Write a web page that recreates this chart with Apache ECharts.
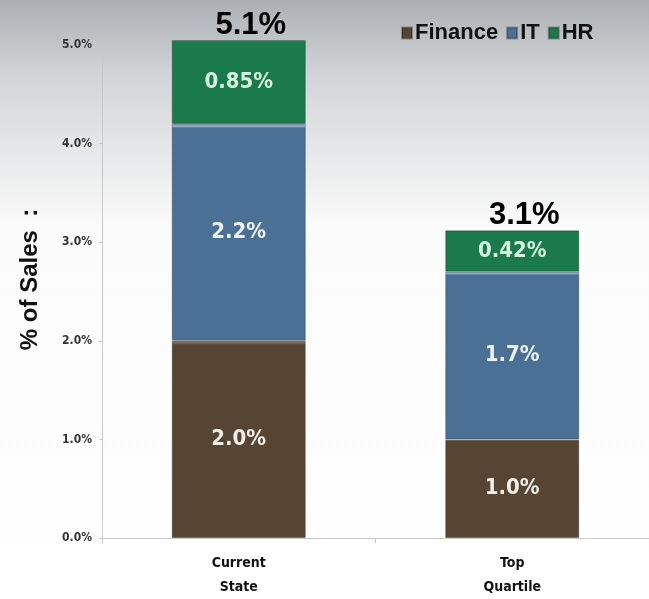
<!DOCTYPE html>
<html>
<head>
<meta charset="utf-8">
<script src="https://cdn.jsdelivr.net/npm/echarts@6/dist/echarts.min.js"></script>
<style>
  html, body { margin: 0; padding: 0; background: #fff; }
  #chart { width: 649px; height: 599px; }
</style>
</head>
<body>
<div id="chart"></div>
<script>
// Cost of support functions as a share of sales
const categories = ['Current\nState', 'Top\nQuartile'];
const finance = [2.0, 1.0];
const it = [2.2, 1.7];
const hr = [0.85, 0.42];
const yTicks = [0, 1, 2, 3, 4, 5];

const totals = categories.map((_, i) => finance[i] + it[i] + hr[i]);

const NARROW = '"Liberation Sans Narrow", "DejaVu Sans Condensed", "Arial Narrow", sans-serif';
const WIDE = '"Liberation Sans", Arial, sans-serif';

// Bar fill with a thin lighter strip along the top edge of each segment
function bevel(base, light) {
  return {
    type: 'linear', x: 0, y: 0, x2: 0, y2: 1,
    colorStops: [
      { offset: 0, color: light },
      { offset: 0.012, color: light },
      { offset: 0.02, color: base },
      { offset: 1, color: base }
    ]
  };
}

function segment(name, values, base, light, textColor) {
  return {
    name: name,
    type: 'bar',
    stack: 'total',
    clip: false,
    barWidth: '49%',
    data: values,
    itemStyle: { color: bevel(base, light), borderColor: 'rgba(30,30,30,0.35)', borderWidth: 1 },
    label: {
      show: true,
      position: 'inside',
      color: textColor,
      fontFamily: NARROW,
      fontWeight: 'bold',
      fontSize: 22,
      formatter: p => p.value + (String(p.value).indexOf('.') < 0 ? '.0' : '') + '%'
    },
    emphasis: { disabled: true }
  };
}

const chart = echarts.init(document.getElementById('chart'), null, { renderer: 'canvas' });
chart.setOption({
  animation: false,
  backgroundColor: {
    type: 'linear', x: 0, y: 0, x2: 0, y2: 1,
    colorStops: [
      { offset: 0, color: '#abafb3' },
      { offset: 0.12, color: '#d1d3d6' },
      { offset: 0.38, color: '#fbfbfb' },
      { offset: 1, color: '#ffffff' }
    ]
  },
  legend: {
    data: ['Finance', 'IT', 'HR'],
    left: 396,
    top: 17,
    icon: 'rect',
    itemWidth: 10,
    itemHeight: 11,
    itemGap: 8,
    textStyle: { fontFamily: WIDE, fontWeight: 'bold', fontSize: 22, color: '#111', padding: [0, 0, 0, -2] }
  },
  grid: { left: 102, right: -5, top: 45, bottom: 59, containLabel: false },
  xAxis: {
    type: 'category',
    data: categories,
    axisLine: { lineStyle: { color: '#c8c8c8' } },
    axisTick: { show: true, alignWithLabel: false, length: 5, lineStyle: { color: '#c8c8c8' } },
    axisLabel: {
      interval: 0, margin: 13, lineHeight: 24,
      fontFamily: NARROW, fontWeight: 'bold', fontSize: 14, color: '#111'
    }
  },
  yAxis: {
    type: 'value',
    min: yTicks[0],
    max: yTicks[yTicks.length - 1],
    interval: 1,
    name: '% of Sales  :',
    nameLocation: 'middle',
    nameGap: 60,
    nameRotate: 90,
    nameTextStyle: { fontFamily: WIDE, fontWeight: 'bold', fontSize: 24, color: '#111', padding: [0, 0, 0, 24] },
    axisLine: { show: true, lineStyle: { color: '#c8c8c8' } },
    axisTick: { show: true, length: 3, lineStyle: { color: '#c8c8c8' } },
    splitLine: { show: false },
    axisLabel: {
      margin: 10, fontFamily: NARROW, fontWeight: 'bold', fontSize: 12, color: '#333',
      formatter: v => v.toFixed(1) + '%'
    }
  },
  series: [
    segment('Finance', finance, '#564533', '#7a6a58', '#f3eee6'),
    segment('IT', it, '#4b7096', '#86a9c8', '#eef3f8'),
    segment('HR', hr, '#1a7a4c', '#3d9a6c', '#d6f5de'),
    {
      name: 'Total',
      type: 'scatter',
      clip: false,
      data: totals,
      symbolSize: 1,
      itemStyle: { color: 'rgba(0,0,0,0)', opacity: 1 },
      label: {
        show: true,
        position: 'top',
        distance: -1,
        offset: [12, 0],
        fontFamily: WIDE,
        fontWeight: 'bold',
        fontSize: 31,
        color: '#000',
        opacity: 1,
        textBorderWidth: 0,
        formatter: p => (Math.round(p.value * 10) / 10).toFixed(1) + '%'
      },
      emphasis: { disabled: true },
      z: 5
    }
  ]
});
</script>
</body>
</html>
